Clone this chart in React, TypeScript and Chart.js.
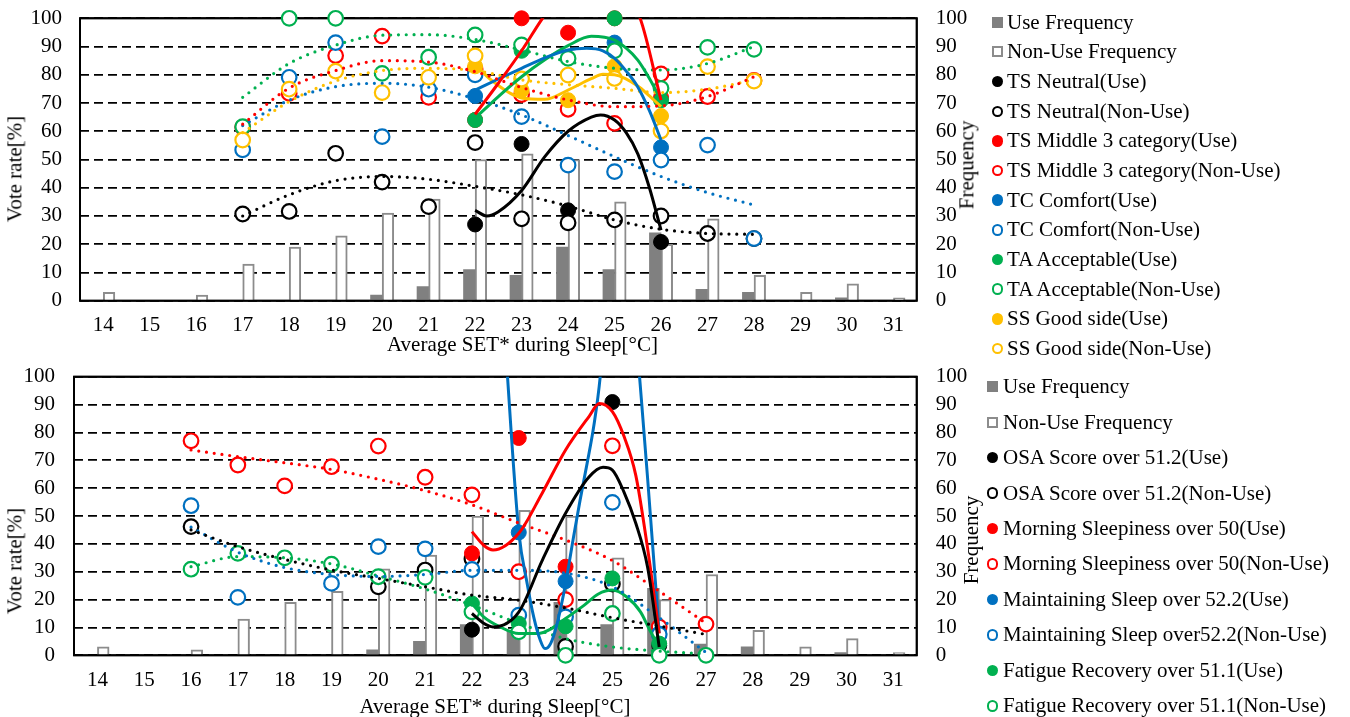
import React, { useEffect, useRef } from "react";
import { Chart, registerables } from "chart.js";

Chart.register(...registerables);

const FONT_FAMILY = "'Liberation Serif', 'Times New Roman', Times, serif";
const FONT_SIZE = 21;
const LINE_H = 25.2;

const BLACK = "#000000";
const RED = "#FF0000";
const BLUE = "#0070C0";
const GREEN = "#00B050";
const YELLOW = "#FFC000";
const BAR_GRAY = "#808080";
const BAR_EDGE = "#8C8C8C";

// ---------- categories / ticks ----------
const temperatureLabels = ["14", "15", "16", "17", "18", "19", "20", "21", "22", "23", "24", "25", "26", "27", "28", "29", "30", "31"];
const axisMin = 0;
const axisMax = 100;
const axisStep = 10;

// ---------- frequency bars (right axis) ----------
const useFrequency = [0, 0, 0, 0, 0, 0, 2, 5, 11, 9, 19, 11, 24, 4, 3, 0, 1, 0];
const nonUseFrequency = [3, 0, 2, 13, 19, 23, 31, 36, 50, 52, 50, 35, 20, 29, 9, 3, 6, 1];

// ---------- top panel ----------
const useTemps = [22, 23, 24, 25, 26];
const nonUseTempsTop = [17, 18, 19, 20, 21, 22, 23, 24, 25, 26, 27, 28];

const tsNeutralUse = [27, 55.5, 32, null, 20.8];
const tsNeutralNonUse = [30.7, 31.6, 52.2, 42, 33.3, 56, 29, 27.6, 28.6, 30, 23.8, 22];
const tsMiddleUse = [64, 100, 94.9, 100, 72];
const tsMiddleNonUse = [61.4, 73.4, 86.8, 93.7, 72, 82, 73, 67.8, 62.8, 80.3, 72.3, 78];
const tcComfortUse = [72.5, null, null, 91.4, 54.3];
const tcComfortNonUse = [53.4, 79.1, 91.4, 58.1, 74.9, 80, 65.2, 48, 45.7, 49.8, 55.1, 22];
const taAcceptableUse = [64, 88.5, null, 100, 71];
const taAcceptableNonUse = [61.6, 100, 100, 80.5, 86.2, 94.1, 90.6, 85.8, 88.5, 75.2, 89.7, 89];
const ssGoodUse = [83, 74.5, 71, 83, 65.4];
const ssGoodNonUse = [56.9, 74.9, 81.3, 73.7, 79.1, 86.7, 78.5, 79.9, 78.7, 60.1, 82.9, 77.8];

// dotted trend lines (non-use), read at each temperature
const tsNeutralNonUseTrend = [30, 37.5, 42.5, 44, 43, 40.5, 37.5, 33.5, 28.6, 25.3, 23.8, 23.5];
const tsMiddleNonUseTrend = [62.5, 75.3, 81.5, 85, 84.5, 81.1, 75.5, 71.1, 68.7, 69, 72.3, 79.3];
const tcComfortNonUseTrend = [62, 71, 75.8, 77, 75.6, 71.5, 65.8, 58.5, 51, 44, 38.3, 33.9];
const taAcceptableNonUseTrend = [72, 84, 90.5, 94, 94.2, 92.5, 88.8, 84.7, 82.3, 81.7, 84, 90];
const ssGoodNonUseTrend = [59.5, 70.5, 77.8, 81.5, 82.3, 81.5, 78.2, 76.5, 75.2, 73.7, 74.9, 78.2];

// solid trend lines (use)
const tsNeutralUseTrendX = [22, 22.25, 22.5, 23, 23.5, 24, 24.5, 24.7, 25, 25.25, 25.5, 25.75, 26];
const tsNeutralUseTrendY = [32, 30, 31.5, 39, 51, 60, 65, 65.8, 64, 59.5, 52, 40, 25];
const tsMiddleUseTrendX = [22, 22.5, 23, 23.45, 24, 24.5, 25, 25.55, 26];
const tsMiddleUseTrendY = [66, 77, 88.5, 100, 112, 117, 114, 100, 71];
const tcComfortUseTrendX = [22, 22.5, 23, 23.5, 24, 24.4, 24.75, 25, 25.25, 25.5, 25.75, 26];
const tcComfortUseTrendY = [74.6, 78.5, 82.3, 86, 88.8, 89.4, 88.5, 85.8, 81.3, 75.7, 67.3, 56.9];
const taAcceptableUseTrendX = [22, 22.5, 23, 23.5, 24, 24.5, 25, 25.25, 25.5, 25.75, 26];
const taAcceptableUseTrendY = [64.6, 72.3, 79.3, 85.3, 90.3, 93.6, 92.3, 89.4, 85.2, 78.7, 71];
const ssGoodUseTrendX = [22, 22.25, 22.5, 22.75, 23, 23.5, 24, 24.5, 24.75, 25, 25.5, 25.75, 26];
const ssGoodUseTrendY = [84, 79.5, 76.2, 73.5, 71.8, 71.3, 74.6, 78.6, 80.2, 80, 76, 72.5, 68.7];

// ---------- bottom panel ----------
const nonUseTempsBottom = [16, 17, 18, 19, 20, 21, 22, 23, 24, 25, 26, 27];

const osaUse = [9.2, null, null, 90.9, 3.5];
const osaNonUse = [46.2, null, null, null, 24.6, 30.6, 34.6, null, 3.2, 25.6, null, null];
const msUse = [36.6, 78, 31.8, null, null];
const msNonUse = [77, 68.3, 60.8, 67.7, 75.1, 63.9, 57.6, 30, 20, 75.2, 10.2, 11.2];
const mSleepUse = [null, 44.1, 26.6, null, 7.8];
const mSleepNonUse = [53.7, 20.8, null, 25.8, 39, 38.2, 30.8, 14.4, 13.8, 54.9, 7.5, null];
const frUse = [18.6, 11.4, 10.4, 27.6, 4.2];
const frNonUse = [30.9, 36.6, 35, 32.7, 28.2, 28, 15.6, 8.4, 0, 15, 0, 0];

const osaNonUseTrend = [45, 39, 34.4, 30.6, 27.6, 24.6, 21.6, 19.8, 17, 13.5, 10.5, 7.5];
const msNonUseTrend = [73.7, 71.3, 69.1, 66.7, 63.2, 59.1, 54, 47.5, 41.4, 34, 23, 11.5];
const mSleepNonUseTrend = [46, 37, 31.5, 29, 28.3, 29, 30.5, 30.5, 29.5, 24.6, 13.5, 1];
const frNonUseTrend = [31.8, 35.4, 35, 32.8, 28.5, 23.8, 18, 11.5, 6, 3, 1.5, 0.5];

const osaUseTrendX = [22, 22.25, 22.45, 23, 23.5, 24, 24.5, 24.8, 25, 25.25, 25.5, 25.75, 26];
const osaUseTrendY = [15, 11.5, 10.2, 15.5, 34, 51, 64, 67.5, 66.5, 58.5, 47.4, 31.8, 3];
const msUseTrendX = [22, 22.25, 22.45, 23, 23.5, 24, 24.5, 24.72, 25, 25.25, 25.5, 25.75, 26];
const msUseTrendY = [44.4, 39.5, 37.8, 43.8, 58.2, 73.7, 85.7, 90.4, 87.5, 78.5, 64.6, 38.6, 7.8];
const mSleepUseTrendX = [22.65, 22.76, 23, 23.18, 23.32, 23.46, 23.56, 23.68, 23.82, 24, 24.17, 24.31, 24.46, 24.6, 24.74, 25.15, 25.58, 25.75, 26];
const mSleepUseTrendY = [130, 100, 44.4, 25.7, 13.7, 5.4, 2.4, 4.2, 11.4, 25.7, 42.5, 55.7, 68.9, 82, 100, 190, 100, 64, 8];
const frUseTrendX = [22, 22.25, 22.6, 23, 23.4, 23.7, 24, 24.4, 24.7, 25, 25.3, 25.6, 25.8, 26];
const frUseTrendY = [18.6, 13.8, 10.2, 7.8, 7.8, 9.6, 13.2, 18, 22, 23.4, 21, 15.6, 9, 3];

// ---------- labels ----------
const barLabels = ["Use Frequency", "Non-Use Frequency"];
const topSeriesLabels = [
  "TS Neutral(Use)", "TS Neutral(Non-Use)",
  "TS Middle 3 category(Use)", "TS Middle 3 category(Non-Use)",
  "TC Comfort(Use)", "TC Comfort(Non-Use)",
  "TA Acceptable(Use)", "TA Acceptable(Non-Use)",
  "SS Good side(Use)", "SS Good side(Non-Use)",
];
const bottomSeriesLabels = [
  "OSA Score over 51.2(Use)", "OSA Score over 51.2(Non-Use)",
  "Morning Sleepiness over 50(Use)", "Morning Sleepiness over 50(Non-Use)",
  "Maintaining Sleep over 52.2(Use)", "Maintaining Sleep over52.2(Non-Use)",
  "Fatigue Recovery over 51.1(Use)", "Fatigue Recovery over 51.1(Non-Use)",
];
const xTitle = "Average SET* during Sleep[°C]";
const yTitle = "Vote rate[%]";
const y2Title = "Frequency";

type Series = {
  label: string;
  color: string;
  filled: boolean;
  xs: number[];
  ys: (number | null)[];
  trendX: number[];
  trendY: number[];
  dotted: boolean;
};

function pair(a: string, color: string, useY: (number | null)[], useTX: number[], useTY: number[], b: string, nonX: number[], nonY: (number | null)[], nonT: number[]): Series[] {
  return [
    { label: a, color, filled: true, xs: useTemps, ys: useY, trendX: useTX, trendY: useTY, dotted: false },
    { label: b, color, filled: false, xs: nonX, ys: nonY, trendX: nonX, trendY: nonT, dotted: true },
  ];
}

const topSeries: Series[] = [
  ...pair(topSeriesLabels[0], BLACK, tsNeutralUse, tsNeutralUseTrendX, tsNeutralUseTrendY, topSeriesLabels[1], nonUseTempsTop, tsNeutralNonUse, tsNeutralNonUseTrend),
  ...pair(topSeriesLabels[2], RED, tsMiddleUse, tsMiddleUseTrendX, tsMiddleUseTrendY, topSeriesLabels[3], nonUseTempsTop, tsMiddleNonUse, tsMiddleNonUseTrend),
  ...pair(topSeriesLabels[4], BLUE, tcComfortUse, tcComfortUseTrendX, tcComfortUseTrendY, topSeriesLabels[5], nonUseTempsTop, tcComfortNonUse, tcComfortNonUseTrend),
  ...pair(topSeriesLabels[6], GREEN, taAcceptableUse, taAcceptableUseTrendX, taAcceptableUseTrendY, topSeriesLabels[7], nonUseTempsTop, taAcceptableNonUse, taAcceptableNonUseTrend),
  ...pair(topSeriesLabels[8], YELLOW, ssGoodUse, ssGoodUseTrendX, ssGoodUseTrendY, topSeriesLabels[9], nonUseTempsTop, ssGoodNonUse, ssGoodNonUseTrend),
];

const bottomSeries: Series[] = [
  ...pair(bottomSeriesLabels[0], BLACK, osaUse, osaUseTrendX, osaUseTrendY, bottomSeriesLabels[1], nonUseTempsBottom, osaNonUse, osaNonUseTrend),
  ...pair(bottomSeriesLabels[2], RED, msUse, msUseTrendX, msUseTrendY, bottomSeriesLabels[3], nonUseTempsBottom, msNonUse, msNonUseTrend),
  ...pair(bottomSeriesLabels[4], BLUE, mSleepUse, mSleepUseTrendX, mSleepUseTrendY, bottomSeriesLabels[5], nonUseTempsBottom, mSleepNonUse, mSleepNonUseTrend),
  ...pair(bottomSeriesLabels[6], GREEN, frUse, frUseTrendX, frUseTrendY, bottomSeriesLabels[7], nonUseTempsBottom, frNonUse, frNonUseTrend),
];

type PanelSpec = {
  top: number;
  height: number;
  plotTop: number;
  xAxisHeight: number;
  leftWidth: number;
  yLabelPad: number;
  xLabelPad: number;
  plotRight: number;
  barWidth: number;
  series: Series[];
  legendMarkerX: number;
  legendTextX: number;
  legendFirstY: number;
  legendStep: number;
  xTitlePos: [number, number];
  yTitlePos: [number, number];
  y2TitlePos: [number, number];
};

const RIGHT_AXIS_WIDTH = 55;

const topPanel: PanelSpec = {
  top: 0, height: 360, plotTop: 18.3, xAxisHeight: 59.3, leftWidth: 80, yLabelPad: 18, xLabelPad: 12,
  plotRight: 916.7, barWidth: 11.6, series: topSeries,
  legendMarkerX: 997.5, legendTextX: 1007, legendFirstY: 22.3, legendStep: 29.65,
  xTitlePos: [522.5, 345], yTitlePos: [15, 169], y2TitlePos: [967, 165],
};

const bottomPanel: PanelSpec = {
  top: 360, height: 357, plotTop: 16.7, xAxisHeight: 61.7, leftWidth: 74, yLabelPad: 19, xLabelPad: 13,
  plotRight: 916.7, barWidth: 11.7, series: bottomSeries,
  legendMarkerX: 992.5, legendTextX: 1003, legendFirstY: 386.8, legendStep: 35.45,
  xTitlePos: [495, 706.8], yTitlePos: [15, 561], y2TitlePos: [972, 539.5],
};

function toPoints(xs: number[], ys: (number | null)[]) {
  const out: { x: number; y: number }[] = [];
  ys.forEach((y, i) => {
    if (y !== null && y !== undefined) out.push({ x: xs[i], y });
  });
  return out;
}

// bar pairs sit a quarter-category left / right of each category centre
const BAR_SHIFT = 0.125;
function barPoints(values: number[], shift: number) {
  return values.map((v, i) => ({ x: Number(temperatureLabels[i]) + shift, y: v }));
}

const plotFrame = {
  id: "plotFrame",
  beforeDatasetsDraw(chart: any) {
    strokeFrame(chart);
  },
  afterDatasetDraw(chart: any, args: any) {
    if (args.meta && args.meta.type === "bar") strokeFrame(chart);
  },
};

function strokeFrame(chart: any) {
  const { ctx, chartArea: a } = chart;
  ctx.save();
  ctx.strokeStyle = "#000";
  ctx.lineWidth = 1.7;
  ctx.setLineDash([]);
  ctx.strokeRect(a.left, a.top, a.right - a.left, a.bottom - a.top);
  ctx.restore();
}

function fixVertical(width: number) {
  return (sc: any) => {
    sc.width = width;
    sc.paddingTop = 0;
    sc.paddingBottom = 0;
  };
}

function buildConfig(spec: PanelSpec) {
  const font = { family: FONT_FAMILY, size: FONT_SIZE };
  const datasets: any[] = [
    {
      type: "bar", label: barLabels[0], data: barPoints(useFrequency, -BAR_SHIFT), backgroundColor: BAR_GRAY, borderWidth: 0,
      xAxisID: "xl", yAxisID: "y2", order: 998, grouped: false, barThickness: spec.barWidth,
    },
    {
      type: "bar", label: barLabels[1], data: barPoints(nonUseFrequency, BAR_SHIFT), backgroundColor: "#FFFFFF", borderColor: BAR_EDGE, borderWidth: 2,
      xAxisID: "xl", yAxisID: "y2", order: 999, grouped: false, barThickness: spec.barWidth,
    },
  ];
  spec.series.forEach((s, i) => {
    datasets.push({
      type: "scatter", label: s.label, data: toPoints(s.xs, s.ys), xAxisID: "xl", yAxisID: "y",
      showLine: false, clip: false, order: 500 - i,
      pointRadius: s.filled ? 7.5 : 7.3,
      pointBorderWidth: s.filled ? 1 : 2.2,
      pointBackgroundColor: s.filled ? s.color : "#FFFFFF",
      pointBorderColor: s.color,
      pointHoverRadius: s.filled ? 7.5 : 7.3,
    });
  });
  spec.series.forEach((s) => {
    datasets.push({
      type: "line", label: s.label + " trend", data: toPoints(s.trendX, s.trendY), xAxisID: "xl", yAxisID: "y",
      borderColor: s.color, borderWidth: s.dotted ? 3.2 : 3, pointRadius: 0, pointHoverRadius: 0, fill: false,
      cubicInterpolationMode: "monotone", borderDash: s.dotted ? [0, 7.8] : [],
      borderCapStyle: s.dotted ? "round" : "butt", order: 0,
    });
  });

  return {
    type: "bar",
    data: { labels: temperatureLabels, datasets },
    plugins: [plotFrame],
    options: {
      responsive: false,
      maintainAspectRatio: false,
      animation: false,
      events: [],
      layout: { autoPadding: false, padding: { top: spec.plotTop, left: 0, bottom: 0, right: 1350 - spec.plotRight - RIGHT_AXIS_WIDTH } },
      plugins: { legend: { display: false }, tooltip: { enabled: false }, title: { display: false } },
      scales: {
        x: {
          type: "category", position: "bottom", offset: true,
          grid: { display: false, drawTicks: false }, border: { display: false },
          ticks: { font, color: "#000", padding: spec.xLabelPad, maxRotation: 0, autoSkip: false },
          afterFit: (sc: any) => { sc.height = spec.xAxisHeight; sc.paddingLeft = 0; sc.paddingRight = 0; },
        },
        xl: { type: "linear", display: false, offset: false, min: 13.5, max: 31.5, grid: { offset: false } },
        y: {
          type: "linear", position: "left", min: axisMin, max: axisMax,
          ticks: { stepSize: axisStep, font, color: "#000", padding: spec.yLabelPad, autoSkip: false },
          grid: { color: "#000", lineWidth: 1.7, drawTicks: false },
          border: { display: false, dash: [9, 5] },
          afterFit: fixVertical(spec.leftWidth),
        },
        y2: {
          type: "linear", position: "right", min: axisMin, max: axisMax,
          ticks: { stepSize: axisStep, font, color: "#000", padding: 19, autoSkip: false },
          grid: { display: false, drawOnChartArea: false, drawTicks: false },
          border: { display: false },
          afterFit: fixVertical(RIGHT_AXIS_WIDTH),
        },
      },
    },
  };
}

const textStyle: React.CSSProperties = {
  position: "absolute",
  fontFamily: FONT_FAMILY,
  fontSize: FONT_SIZE,
  lineHeight: LINE_H + "px",
  color: "#000",
  whiteSpace: "nowrap",
};

function LegendMarker({ kind, color, cx, cy }: { kind: string; color: string; cx: number; cy: number }) {
  const size = kind === "barFill" || kind === "barOpen" ? 11 : 11.5;
  const st: React.CSSProperties = {
    position: "absolute", boxSizing: "border-box", left: cx - size / 2, top: cy - size / 2, width: size, height: size,
  };
  if (kind === "barFill") Object.assign(st, { background: BAR_GRAY });
  if (kind === "barOpen") Object.assign(st, { background: "#fff", border: "2px solid " + BAR_EDGE });
  if (kind === "dotFill") Object.assign(st, { background: color, borderRadius: "50%" });
  if (kind === "dotOpen") Object.assign(st, { background: "#fff", border: "2.3px solid " + color, borderRadius: "50%" });
  return <div style={st} />;
}

function Panel({ spec }: { spec: PanelSpec }) {
  const canvasRef = useRef<HTMLCanvasElement | null>(null);
  useEffect(() => {
    const canvas = canvasRef.current;
    if (!canvas) return;
    const chart = new Chart(canvas, buildConfig(spec) as any);
    return () => chart.destroy();
  }, [spec]);

  const legendItems = [
    { label: barLabels[0], kind: "barFill", color: BAR_GRAY },
    { label: barLabels[1], kind: "barOpen", color: BAR_EDGE },
    ...spec.series.map((s) => ({ label: s.label, kind: s.filled ? "dotFill" : "dotOpen", color: s.color })),
  ];

  return (
    <>
      <canvas
        ref={canvasRef}
        width={1350}
        height={spec.height}
        style={{ position: "absolute", left: 0, top: spec.top, width: 1350, height: spec.height, display: "block" }}
      />
      {legendItems.map((it, i) => {
        const cy = spec.legendFirstY + i * spec.legendStep;
        return (
          <React.Fragment key={it.label + i}>
            <LegendMarker kind={it.kind} color={it.color} cx={spec.legendMarkerX} cy={cy} />
            <div style={{ ...textStyle, left: spec.legendTextX, top: cy - LINE_H / 2 }}>{it.label}</div>
          </React.Fragment>
        );
      })}
      <div style={{ ...textStyle, left: spec.xTitlePos[0], top: spec.xTitlePos[1], transform: "translate(-50%, -50%)" }}>{xTitle}</div>
      <div style={{ ...textStyle, left: spec.yTitlePos[0], top: spec.yTitlePos[1], transform: "translate(-50%, -50%) rotate(-90deg)" }}>{yTitle}</div>
      <div style={{ ...textStyle, left: spec.y2TitlePos[0], top: spec.y2TitlePos[1], transform: "translate(-50%, -50%) rotate(-90deg)" }}>{y2Title}</div>
    </>
  );
}

export default function App() {
  return (
    <div style={{ position: "absolute", left: 0, top: 0, width: 1350, height: 717, overflow: "hidden", background: "#fff" }}>
      <Panel spec={topPanel} />
      <Panel spec={bottomPanel} />
    </div>
  );
}
